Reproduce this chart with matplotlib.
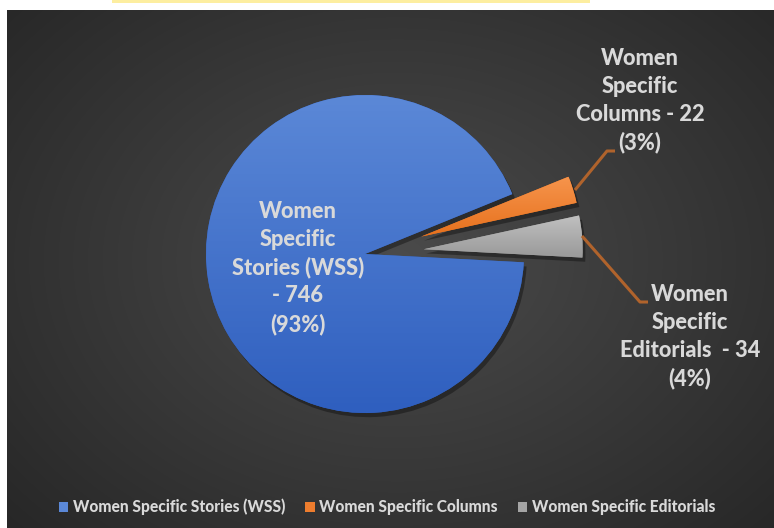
#!/usr/bin/env python3
# Pie chart: women specific content (stories / columns / editorials)

import numpy as np
import matplotlib.pyplot as plt
from matplotlib.patches import Patch, Rectangle
from matplotlib.colors import to_rgb
import matplotlib.patheffects as pe

categories = ["Women Specific Stories (WSS)", "Women Specific Columns", "Women Specific Editorials"]
counts = [746, 22, 34]
pcts = [93, 3, 4]
label_texts = ["Women\nSpecific\nStories (WSS)\n- 746\n(93%)",
               "Women\nSpecific\nColumns - 22\n(3%)",
               "Women\nSpecific\nEditorials  - 34\n(4%)"]

top_cols = ["#5b88d7", "#f6944c", "#c0c0c0"]
bot_cols = ["#2f5fbf", "#e7711d", "#999999"]
txt_col = "#d9d9d9"
lead_col = "#b0632c"

W, H = 774, 528
R = 159
plt.rcParams["font.family"] = ["Lato", "DejaVu Sans"]

fig = plt.figure(figsize=(W / 100, H / 100), dpi=100)
fig.patch.set_facecolor("white")

# dark radial background of the chart area
bg = fig.add_axes([7 / W, 0, (W - 7) / W, (H - 10) / H])
bg.set_axis_off()
yy, xx = np.mgrid[0:518, 0:767]
r = np.sqrt(((xx - 390) / 560.0) ** 2 + ((yy - 250) / 420.0) ** 2)
r = np.clip(r, 0, 1)
c0, c1 = np.array([0x4b, 0x4b, 0x4b]) / 255, np.array([0x25, 0x25, 0x25]) / 255
img = c0[None, None, :] * (1 - r[..., None]) + c1[None, None, :] * r[..., None]
bg.imshow(img, aspect="auto", interpolation="bilinear")

# cropped yellow strip on top
fig.patches.append(Rectangle((112 / W, (H - 3) / H), 478 / W, 3 / H, transform=fig.transFigure,
                             facecolor="#fdeea0", edgecolor="none"))

ax = fig.add_axes([0, 0, 1, 1])
ax.set_axis_off()
# explode is in data units here (pixels), so scale by radius
wedges, _ = ax.pie(counts, startangle=-3, counterclock=False, radius=R,
                   center=(365, H - 254), explode=[0, 0.37 * R, 0.37 * R],
                   wedgeprops=dict(linewidth=0))

for w, ct, cb in zip(wedges, top_cols, bot_cols):
    w.set_facecolor(cb)
    w.set_path_effects([pe.SimplePatchShadow(offset=(2, -3), shadow_rgbFace="black", alpha=0.35), pe.Normal()])
    ext = w.get_path().get_extents()
    g = np.linspace(0, 1, 100)[:, None, None]
    grad = np.array(to_rgb(ct)) * (1 - g) + np.array(to_rgb(cb)) * g
    im = ax.imshow(grad, extent=(ext.x0, ext.x1, ext.y0, ext.y1), origin="upper",
                   aspect="auto", zorder=w.get_zorder() + 0.1)
    im.set_clip_path(w)

ax.set_xlim(0, W)
ax.set_ylim(0, H)
ax.set_aspect("equal")

# leader lines
ax.plot([575, 607, 615], [H - 190, H - 151, H - 151], color=lead_col, lw=2.2, solid_capstyle="butt")
ax.plot([582, 640, 648], [H - 236, H - 302, H - 302], color=lead_col, lw=2.2, solid_capstyle="butt")

lbl_pos = [(298, H - 268), (640, H - 101), (690, H - 337)]
for (x, y), t in zip(lbl_pos, label_texts):
    ax.text(x, y, t, ha="center", va="center", ma="center", color=txt_col,
            fontsize=15.7, fontweight=900, linespacing=1.4)

handles = [Patch(facecolor=c, edgecolor="none") for c in [top_cols[0], "#ee7d2e", "#a5a5a5"]]
fig.legend(handles, categories, loc="center", bbox_to_anchor=(0.5, (H - 507) / H), ncol=3,
           frameon=False, labelcolor=txt_col, handlelength=0.6, handleheight=0.6,
           handletextpad=0.3, columnspacing=1.3, prop=dict(weight=900, size=11.2))

fig.savefig("out.png", dpi=100)
